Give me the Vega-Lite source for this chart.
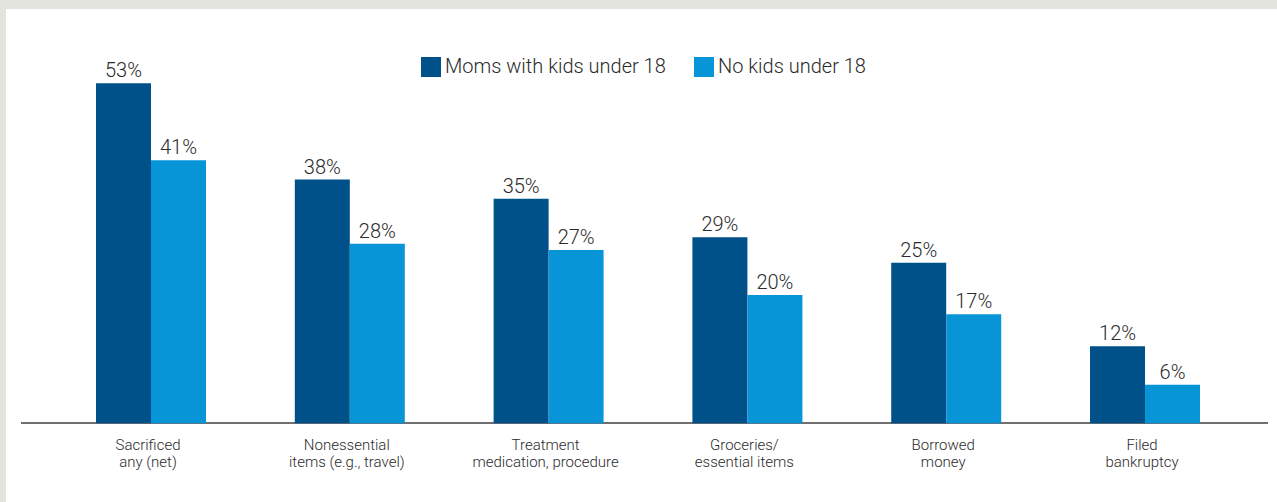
{
  "$schema": "https://vega.github.io/schema/vega-lite/v6.json",
  "autosize": {"type": "none"},
  "padding": {"left": 6, "top": 9, "right": 0, "bottom": 0},
  "width": 1271,
  "height": 493,
  "background": "#e4e4df",
  "config": {
    "view": {"fill": "white", "stroke": null},
    "font": "Roboto"
  },
  "data": {
    "values": [
      {"cat": "Sacrificed\nany (net)", "group": "Moms with kids under 18", "value": 53, "pct": "53%"},
      {"cat": "Sacrificed\nany (net)", "group": "No kids under 18", "value": 41, "pct": "41%"},
      {"cat": "Nonessential\nitems (e.g., travel)", "group": "Moms with kids under 18", "value": 38, "pct": "38%"},
      {"cat": "Nonessential\nitems (e.g., travel)", "group": "No kids under 18", "value": 28, "pct": "28%"},
      {"cat": "Treatment\nmedication, procedure", "group": "Moms with kids under 18", "value": 35, "pct": "35%"},
      {"cat": "Treatment\nmedication, procedure", "group": "No kids under 18", "value": 27, "pct": "27%"},
      {"cat": "Groceries/\nessential items", "group": "Moms with kids under 18", "value": 29, "pct": "29%"},
      {"cat": "Groceries/\nessential items", "group": "No kids under 18", "value": 20, "pct": "20%"},
      {"cat": "Borrowed\nmoney", "group": "Moms with kids under 18", "value": 25, "pct": "25%"},
      {"cat": "Borrowed\nmoney", "group": "No kids under 18", "value": 17, "pct": "17%"},
      {"cat": "Filed\nbankruptcy", "group": "Moms with kids under 18", "value": 12, "pct": "12%"},
      {"cat": "Filed\nbankruptcy", "group": "No kids under 18", "value": 6, "pct": "6%"}
    ]
  },
  "encoding": {
    "x": {
      "field": "cat",
      "type": "nominal",
      "sort": null,
      "axis": null,
      "scale": {
        "domain": ["Sacrificed\nany (net)", "Nonessential\nitems (e.g., travel)", "Treatment\nmedication, procedure", "Groceries/\nessential items", "Borrowed\nmoney", "Filed\nbankruptcy"],
        "paddingInner": 0.4467, "paddingOuter": 0.42, "align": 0.539
      }
    }
  },
  "layer": [
    {
      "mark": {"type": "rule", "color": "#6f6f6f", "strokeWidth": 1.6},
      "encoding": {
        "x": {"datum": "Sacrificed\nany (net)", "type": "nominal", "bandPosition": -0.68},
        "x2": {"datum": "Filed\nbankruptcy", "bandPosition": 1.618},
        "y": {"datum": 0, "type": "quantitative", "scale": {"domain": [-12.3, 64.6], "nice": false, "zero": false}, "axis": null}
      }
    },
    {
      "mark": {"type": "bar"},
      "encoding": {
        "xOffset": {"field": "group", "type": "nominal", "scale": {"paddingInner": 0, "paddingOuter": 0}},
        "y": {"field": "value", "type": "quantitative", "scale": {"domain": [-12.3, 64.6], "nice": false, "zero": false}, "axis": null},
        "y2": {"datum": 0},
        "color": {
          "field": "group",
          "type": "nominal",
          "scale": {"domain": ["Moms with kids under 18", "No kids under 18"], "range": ["#00508a", "#0795d7"]},
          "legend": {
            "title": null,
            "orient": "none",
            "legendX": 415,
            "legendY": 48,
            "direction": "horizontal",
            "symbolType": "square",
            "symbolSize": 400,
            "symbolStrokeWidth": 0,
            "symbolOpacity": 1,
            "labelFontSize": 20,
            "labelFontWeight": 300,
            "labelColor": "#2b2b2b",
            "labelOffset": 4,
            "columnPadding": 28,
            "padding": 0,
            "labelLimit": 400
          }
        }
      }
    },
    {
      "mark": {"type": "text", "fontSize": 20, "fontWeight": 300, "color": "#2b2b2b", "baseline": "alphabetic", "dy": -6},
      "encoding": {
        "xOffset": {"field": "group", "type": "nominal", "scale": {"paddingInner": 0, "paddingOuter": 0}},
        "y": {"field": "value", "type": "quantitative", "scale": {"domain": [-12.3, 64.6], "nice": false, "zero": false}, "axis": null},
        "text": {"field": "pct"}
      }
    },
    {
      "transform": [{"filter": "datum.group === 'Moms with kids under 18'"}],
      "mark": {"type": "text", "fontSize": 15, "fontWeight": 300, "color": "#2b2b2b", "baseline": "alphabetic", "lineBreak": "\n", "lineHeight": 17, "dy": 27, "dx": -3},
      "encoding": {
        "y": {"datum": 0, "type": "quantitative", "scale": {"domain": [-12.3, 64.6], "nice": false, "zero": false}, "axis": null},
        "text": {"field": "cat"}
      }
    }
  ]
}
